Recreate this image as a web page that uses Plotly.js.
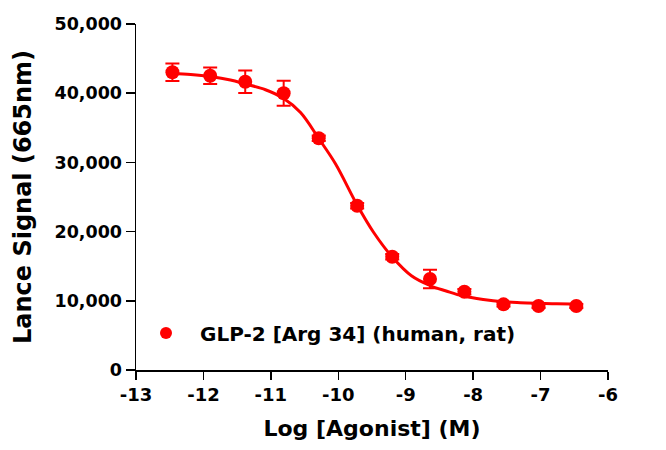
<!DOCTYPE html>
<html>
<head>
<meta charset="utf-8">
<script src="https://cdn.plot.ly/plotly-3.0.1.min.js"></script>
<style>html,body{margin:0;padding:0;background:#fff;}#chart{width:666px;height:450px;}</style>
</head>
<body>
<div id="chart"></div>
<script>
// Measured data (log molar concentration vs Lance signal)
var logConc = [-12.46, -11.90, -11.38, -10.81, -10.29, -9.72, -9.20, -8.64, -8.13, -7.55, -7.03, -6.47];
var signal = [43020, 42530, 41660, 39990, 33480, 23740, 16370, 13150, 11310, 9490, 9250, 9250];
var errSignal = [1270, 1200, 1620, 1810, 400, 400, 400, 1340, 400, 300, 300, 300];

// Fitted curve
var fitX = [-12.46, -12.19, -11.90, -11.60, -11.38, -11.08, -10.82, -10.56, -10.29, -10.04, -9.72, -9.48, -9.20, -8.91, -8.64, -8.40, -8.15, -7.85, -7.56, -7.30, -7.05, -6.76, -6.46];
var fitY = [42850, 42700, 42410, 41910, 41330, 40500, 39300, 37200, 33450, 29770, 23840, 19940, 16330, 13580, 12210, 11420, 10690, 10190, 9870, 9730, 9640, 9570, 9540];

var seriesName = 'GLP-2 [Arg 34] (human, rat)';
var xTitle = 'Log [Agonist] (M)';
var yTitle = 'Lance Signal (665nm)';
var xTicks = [-13, -12, -11, -10, -9, -8, -7, -6];
var yTicks = [0, 10000, 20000, 30000, 40000, 50000];

var red = '#ff0000';
var fontFam = 'DejaVu Sans, Arial, sans-serif';

var traces = [
  {
    x: fitX, y: fitY, mode: 'lines', type: 'scatter',
    line: {color: red, width: 3, shape: 'spline', smoothing: 1},
    showlegend: false, hoverinfo: 'skip'
  },
  {
    x: logConc, y: signal, mode: 'markers', type: 'scatter', name: seriesName,
    marker: {color: red, size: 14, symbol: 'circle'},
    error_y: {type: 'data', array: errSignal, visible: true, color: red, thickness: 2, width: 7}
  }
];

var layout = {
  width: 666, height: 450,
  margin: {l: 136, r: 58, t: 24, b: 80},
  paper_bgcolor: '#fff', plot_bgcolor: '#fff',
  font: {family: fontFam, color: '#000', size: 18, weight: 'bold'},
  showlegend: true,
  legend: {
    x: -0.0085, y: 0.107, xanchor: 'left', yanchor: 'middle',
    bgcolor: 'rgba(0,0,0,0)', borderwidth: 0,
    font: {family: fontFam, size: 20, color: '#000', weight: 'bold'},
    itemsizing: 'constant', itemwidth: 58
  },
  xaxis: {
    range: [-13, -6], tickvals: xTicks, ticktext: xTicks.map(String),
    showgrid: false, zeroline: false, showline: true, linecolor: '#000', linewidth: 1.5,
    ticks: 'outside', ticklen: 8, tickwidth: 1.5, tickcolor: '#000',
    tickfont: {family: fontFam, size: 18, color: '#000', weight: 'bold'},
    title: {text: xTitle, font: {family: fontFam, size: 22, color: '#000', weight: 'bold'}, standoff: 16},
    fixedrange: true
  },
  yaxis: {
    range: [0, 50000], tickvals: yTicks, tickformat: ',d',
    showgrid: false, zeroline: false, showline: true, linecolor: '#000', linewidth: 1.5,
    ticks: 'outside', ticklen: 9, tickwidth: 1.5, tickcolor: '#000',
    tickfont: {family: fontFam, size: 17.5, color: '#000', weight: 'bold'},
    title: {text: yTitle, font: {family: fontFam, size: 24, color: '#000', weight: 'bold'}, standoff: 16},
    fixedrange: true
  }
};

Plotly.newPlot('chart', traces, layout, {displayModeBar: false, staticPlot: true});
</script>
</body>
</html>
